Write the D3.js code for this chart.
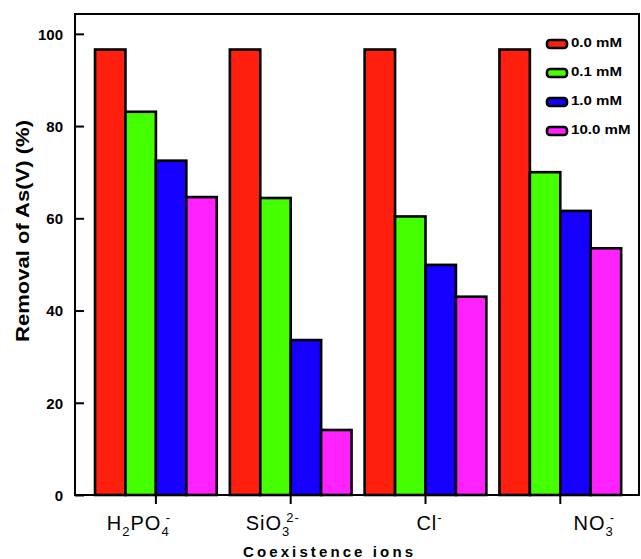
<!DOCTYPE html>
<html>
<head>
<meta charset="utf-8">
<script src="https://cdn.jsdelivr.net/npm/d3@7"></script>
<style>
    body { margin: 0; background: #fff; }
    text { font-family: "Liberation Sans", Arial, sans-serif; }
</style>
</head>
<body>
<div id="chart"></div>
<script>
// coexisting ions on the x axis
var ions = ["H2PO4-", "SiO3 2-", "Cl-", "NO3-"];
// label pieces: [text, "n" normal | "sub" | "sup"]
var ionLabelParts = [
    [["H", "n"], ["2", "sub"], ["PO", "n"], ["4", "sub"], ["-", "sup"]],
    [["SiO", "n"], ["3", "sub"], ["2-", "sup"]],
    [["Cl", "n"], ["-", "sup"]],
    [["NO", "n"], ["3", "sub"], ["-", "sup"]]
];
var concentrations = ["0.0 mM", "0.1 mM", "1.0 mM", "10.0 mM"];

// Removal of As(V) (%), one array per concentration
var removal00 = [96.6, 96.6, 96.6, 96.6];
var removal01 = [83.1, 64.4, 60.4, 70.0];
var removal10 = [72.5, 33.6, 49.9, 61.6];
var removal100 = [64.6, 14.1, 43.0, 53.5];

var yTicks = [0, 20, 40, 60, 80, 100];

var colors = ["#ff1f0f", "#44ff00", "#1500ff", "#ff22ff"];

function draw() {
    var width = 641, height = 559;
    var plotLeft = 75, plotRight = 639, plotTop = 14, plotBottom = 495;

    var series = [removal00, removal01, removal10, removal100];
    var data = ions.map(function (ion, i) {
        return { ion: ion, values: series.map(function (s, j) { return { key: concentrations[j], value: s[i] }; }) };
    });

    var svg = d3.select("#chart").append("svg")
        .attr("width", width)
        .attr("height", height);

    svg.append("rect").attr("width", width).attr("height", height).attr("fill", "#fff");

    var x = d3.scaleBand().domain(ions).range([88.5, 627.7]).paddingInner(0.097).paddingOuter(0.0485);
    var xInner = d3.scaleBand().domain(concentrations).range([0, x.bandwidth()]);
    var y = d3.scaleLinear().domain([0, 104.3]).range([plotBottom, plotTop]);

    // bars
    var groups = svg.append("g").selectAll("g")
        .data(data)
        .enter().append("g")
        .attr("transform", function (d) { return "translate(" + x(d.ion) + ",0)"; });

    groups.selectAll("rect")
        .data(function (d) { return d.values; })
        .enter().append("rect")
        .attr("x", function (d) { return xInner(d.key); })
        .attr("y", function (d) { return y(d.value); })
        .attr("width", xInner.bandwidth())
        .attr("height", function (d) { return y(0) - y(d.value); })
        .attr("fill", function (d, i) { return colors[i]; })
        .attr("stroke", "#000")
        .attr("stroke-width", 2.6);

    // frame
    svg.append("rect")
        .attr("x", plotLeft).attr("y", plotTop)
        .attr("width", plotRight - plotLeft).attr("height", plotBottom - plotTop)
        .attr("fill", "none").attr("stroke", "#000").attr("stroke-width", 2);

    // y axis (ticks inside)
    var yAxis = svg.append("g")
        .attr("transform", "translate(" + plotLeft + ",0)")
        .call(d3.axisRight(y).tickValues(yTicks).tickSize(9).tickFormat(d3.format("d")));
    yAxis.select(".domain").remove();
    yAxis.selectAll("line").attr("stroke", "#000").attr("stroke-width", 2);
    yAxis.selectAll("text")
        .attr("x", -12)
        .attr("text-anchor", "end")
        .attr("dy", "0.36em")
        .attr("fill", "#000")
        .style("font-size", "15px")
        .style("font-weight", "bold");

    // x axis (ticks outside)
    var xAxis = svg.append("g")
        .attr("transform", "translate(0," + plotBottom + ")")
        .call(d3.axisBottom(x).tickSize(9).tickFormat(""));
    xAxis.select(".domain").remove();
    xAxis.selectAll("line").attr("stroke", "#000").attr("stroke-width", 2);

    // x tick labels with sub/superscripts
    var labelDx = [-17, -18, 4, 34];
    ions.forEach(function (ion, i) {
        var t = svg.append("text")
            .attr("x", x(ion) + x.bandwidth() / 2 + labelDx[i])
            .attr("y", 530)
            .attr("text-anchor", "middle")
            .style("font-size", "20px")
            .style("letter-spacing", "1px");
        ionLabelParts[i].forEach(function (p, k) {
            var prev = k > 0 ? ionLabelParts[i][k - 1][1] : "n";
            var shift = 0;
            if (p[1] === "sub") shift = prev === "sup" ? 14 : 6;
            else if (p[1] === "sup") shift = prev === "sub" ? -14 : -8;
            else shift = prev === "sub" ? -6 : (prev === "sup" ? 8 : 0);
            var ts = t.append("tspan").text(p[0]).attr("dy", shift);
            if (p[1] !== "n") ts.style("font-size", "13px");
            if (p[1] === "sup" && prev === "sub") ts.attr("dx", -4);
        });
    });

    // axis titles
    svg.append("text")
        .attr("x", 328).attr("y", 557)
        .attr("text-anchor", "middle")
        .attr("textLength", 170)
        .attr("lengthAdjust", "spacing")
        .style("font-size", "15px")
        .style("font-weight", "bold")
        .text("Coexistence ions");

    svg.append("text")
        .attr("transform", "translate(29,231) rotate(-90)")
        .attr("text-anchor", "middle")
        .attr("textLength", 222)
        .attr("lengthAdjust", "spacingAndGlyphs")
        .style("font-size", "19px")
        .style("font-weight", "bold")
        .text("Removal of As(V) (%)");

    // legend
    var legend = svg.append("g").selectAll("g")
        .data(concentrations)
        .enter().append("g")
        .attr("transform", function (d, i) { return "translate(547," + (44 + i * 29) + ")"; });

    legend.append("rect")
        .attr("x", 0).attr("y", -4)
        .attr("width", 20).attr("height", 8)
        .attr("rx", 3)
        .attr("fill", function (d, i) { return colors[i]; })
        .attr("stroke", "#000")
        .attr("stroke-width", 2.6);

    legend.append("text")
        .attr("x", 24).attr("y", 3)
        .attr("textLength", function (d) { return d.length * 8.5; })
        .attr("lengthAdjust", "spacingAndGlyphs")
        .style("font-size", "12px")
        .style("font-weight", "bold")
        .text(function (d) { return d; });
}

draw();
</script>
</body>
</html>
